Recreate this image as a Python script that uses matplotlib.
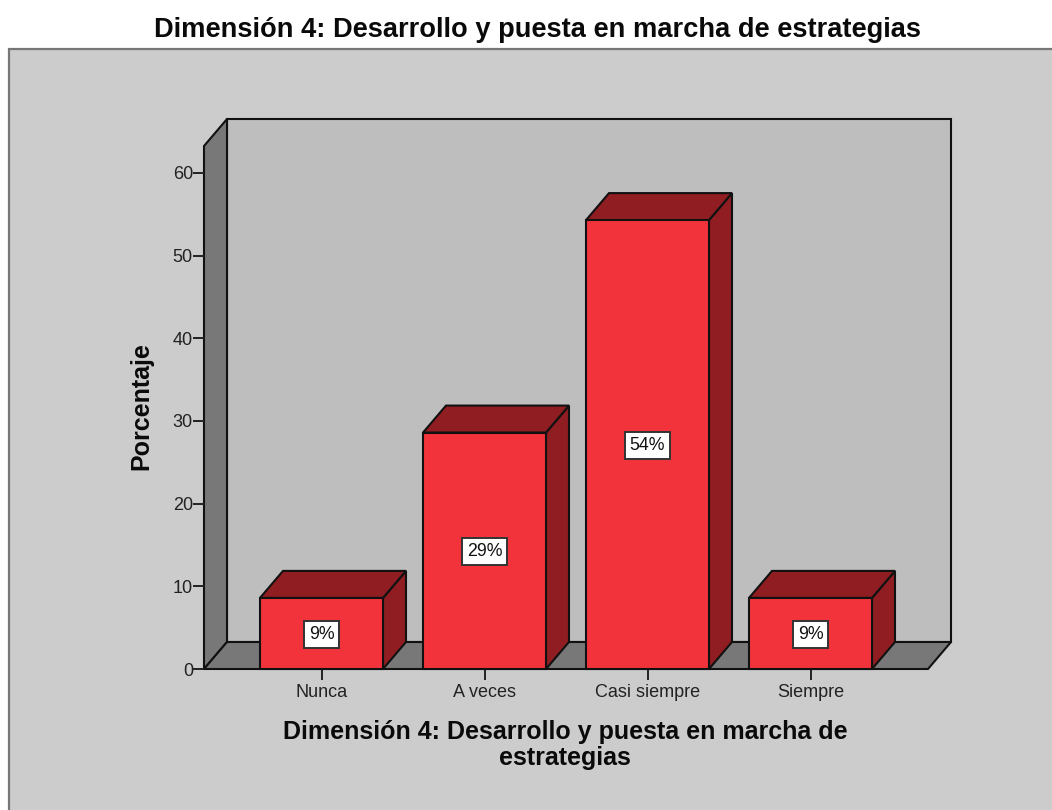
import matplotlib
matplotlib.use("Agg")
import matplotlib.pyplot as plt
from matplotlib.patches import Polygon, Rectangle

plt.rcParams['font.family'] = ['Liberation Sans', 'DejaVu Sans']

categories = ["Nunca", "A veces", "Casi siempre", "Siempre"]
values = [8.6, 28.6, 54.3, 8.6]
labels = ["9%", "29%", "54%", "9%"]
yticks = [0, 10, 20, 30, 40, 50, 60]
title = "Dimensión 4: Desarrollo y puesta en marcha de estrategias"
xtitle = "Dimensión 4: Desarrollo y puesta en marcha de\nestrategias"
ytitle = "Porcentaje"

W, H = 1052, 810
fig = plt.figure(figsize=(W/100, H/100), dpi=100, facecolor="white")

# Grey panel
fig.add_artist(Rectangle((9.5/W, -0.01), 1.1, (810-48.5)/H + 0.01, transform=fig.transFigure,
                         facecolor="#CCCCCC", edgecolor="#777777", lw=1.6, zorder=-1))
fig.text(537.5/W, 1-30/H, title, ha="center", va="center", fontsize=19.6, fontweight="bold", color="#0a0a0a")

L, R, T, B = 204, 928, 146, 669
ax = fig.add_axes([L/W, 1-B/H, (R-L)/W, (B-T)/H])
ax.patch.set_visible(False)
ax.set_xlim((L-321.5)/163, (R-321.5)/163)
ax.set_ylim(0, (B-T)/8.267)
dx, dy = 23/163, 27/8.267
x0, x1 = ax.get_xlim()
y1 = ax.get_ylim()[1]
EC = "#111111"
def poly(pts, fc, z=1, lw=1.5):
    ax.add_patch(Polygon(pts, closed=True, facecolor=fc, edgecolor=EC, lw=lw, zorder=z, clip_on=False, joinstyle="miter"))

poly([(x0+dx, dy), (x1+dx, dy), (x1+dx, y1+dy), (x0+dx, y1+dy)], "#BEBEBE")
poly([(x0, 0), (x0+dx, dy), (x0+dx, y1+dy), (x0, y1)], "#787878")
poly([(x0, 0), (x1, 0), (x1+dx, dy), (x0+dx, dy)], "#787878")

w = 123/163
for i, v in enumerate(values):
    a, b = i-w/2, i+w/2
    poly([(b, 0), (b+dx, dy), (b+dx, v+dy), (b, v)], "#8F1D21", 3)
    poly([(a, v), (b, v), (b+dx, v+dy), (a+dx, v+dy)], "#8F1D21", 3)
    poly([(a, 0), (b, 0), (b, v), (a, v)], "#F2333B", 4)
    ax.text(i, v/2 - 0.1, labels[i], ha="center", va="center", fontsize=12.8, color="#111111", zorder=6,
            bbox=dict(boxstyle="square,pad=0.27", facecolor="white", edgecolor="#333333", lw=1.4))

for s in ax.spines.values():
    s.set_visible(False)
ax.set_yticks(yticks)
ax.set_xticks(range(len(categories)))
ax.set_xticklabels(categories)
ax.tick_params(axis="y", length=8, width=1.4, color="#222222", labelsize=13, labelcolor="#222222", pad=0)
ax.tick_params(axis="x", length=8, width=1.4, color="#222222", labelsize=13, labelcolor="#222222", pad=3)
fig.text(141/W, 1-406/H, ytitle, rotation=90, ha="center", va="center", fontsize=18, fontweight="bold", color="#0a0a0a")
fig.text(565/W, 1-745/H, xtitle, ha="center", va="center", fontsize=18, fontweight="bold", color="#0a0a0a", linespacing=1.15)

fig.savefig("out.png", dpi=100)
